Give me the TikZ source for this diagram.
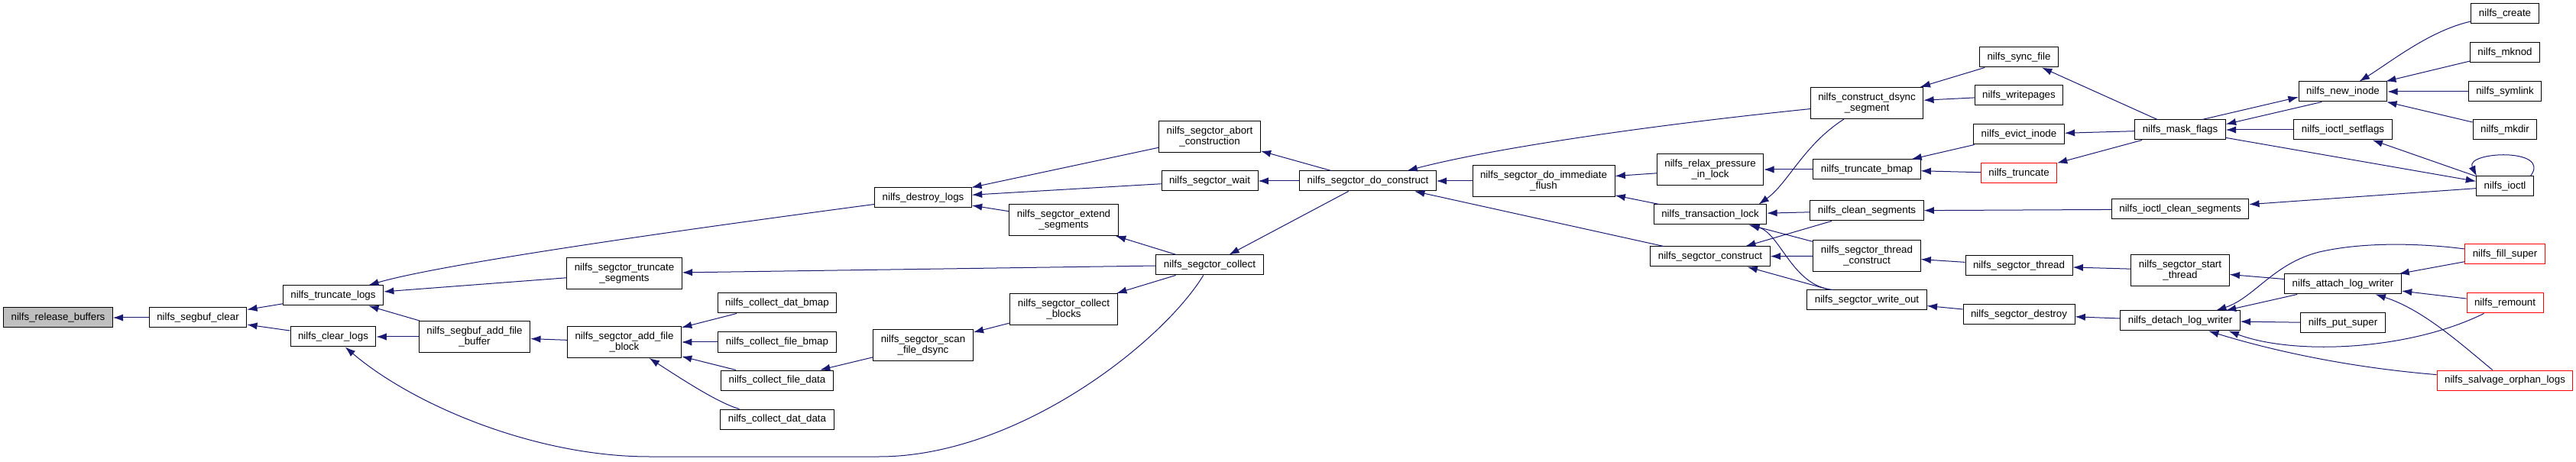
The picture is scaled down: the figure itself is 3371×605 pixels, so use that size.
\documentclass[tikz,border=0pt]{standalone}
\usepackage{fontspec}
\setmainfont{Liberation Sans}
\usepackage{tikz}
\usetikzlibrary{
  % filled arrow heads
  arrows.meta,%
  calc
}
\definecolor{edgeblue}{HTML}{191970}
\definecolor{rootgray}{HTML}{BFBFBF}
\tikzset{>={Latex[length=10pt,width=7pt]}}
\tikzset{font=\fontsize{10}{10.5}\selectfont}
\tikzset{func/.style={draw=black, line width=0.75pt, fill=white,
    inner xsep=7.5pt, inner ysep=2pt, minimum height=19.5pt, align=center},
  wrap/.style={func, minimum height=30.75pt},
  redfunc/.style={func, draw=red},
  call/.style={<-, draw=edgeblue, line width=0.75pt}}

\begin{document}
\begin{tikzpicture}[x=0.75pt, y=-0.75pt]
      \useasboundingbox (0,0) rectangle (3371,605);%
      % nodes, column by column
      \node[func, fill=rootgray] (relbuf) at (76,416) {nilfs\_release\_buffers};%
      \node[func] (sbclear) at (259,416) {nilfs\_segbuf\_clear};%
      \node[func] (trlogs) at (436,387) {nilfs\_truncate\_logs};%
      \node[func] (clrlogs) at (436,441) {nilfs\_clear\_logs};%
      \node[wrap] (addbuf) at (621,441) {nilfs\_segbuf\_add\_file\\\_buffer};%
      \node[wrap] (trseg) at (817,358) {nilfs\_segctor\_truncate\\\_segments};%
      \node[wrap] (addblk) at (817,448) {nilfs\_segctor\_add\_file\\\_block};%
      \node[func] (datbmap) at (1017,397) {nilfs\_collect\_dat\_bmap};%
      \node[func] (filebmap) at (1017,448) {nilfs\_collect\_file\_bmap};%
      \node[func] (filedata) at (1017,498) {nilfs\_collect\_file\_data};%
      \node[func] (datdata) at (1017,549) {nilfs\_collect\_dat\_data};%
      \node[func] (dlogs) at (1208,259) {nilfs\_destroy\_logs};%
      \node[wrap] (scandsync) at (1208,452) {nilfs\_segctor\_scan\\\_file\_dsync};%
      \node[wrap] (extseg) at (1392,288) {nilfs\_segctor\_extend\\\_segments};%
      \node[wrap] (colblk) at (1392,405) {nilfs\_segctor\_collect\\\_blocks};%
      \node[wrap] (abort) at (1583,179) {nilfs\_segctor\_abort\\\_construction};%
      \node[func] (wait) at (1583,237) {nilfs\_segctor\_wait};%
      \node[func] (collect) at (1583,347) {nilfs\_segctor\_collect};%
      \node[func] (doconst) at (1790,237) {nilfs\_segctor\_do\_construct};%
      \node[wrap] (immflush) at (2020,237) {nilfs\_segctor\_do\_immediate\\\_flush};%
      \node[wrap] (relax) at (2238,222) {nilfs\_relax\_pressure\\\_in\_lock};%
      \node[func] (trlock) at (2238,281) {nilfs\_transaction\_lock};%
      \node[func] (sconst) at (2238,336) {nilfs\_segctor\_construct};%
      \node[wrap] (dsync) at (2443,135) {nilfs\_construct\_dsync\\\_segment};%
      \node[func] (trbmap) at (2443,222) {nilfs\_truncate\_bmap};%
      \node[func] (cleanseg) at (2443,276) {nilfs\_clean\_segments};%
      \node[wrap] (thrconst) at (2443,335) {nilfs\_segctor\_thread\\\_construct};%
      \node[func] (wrout) at (2443,393) {nilfs\_segctor\_write\_out};%
      \node[func] (syncfile) at (2642,75) {nilfs\_sync\_file};%
      \node[func] (wpages) at (2642,125) {nilfs\_writepages};%
      \node[func] (evict) at (2642,176) {nilfs\_evict\_inode};%
      \node[redfunc] (trunc) at (2642,227) {nilfs\_truncate};%
      \node[func] (sthread) at (2642,348) {nilfs\_segctor\_thread};%
      \node[func] (sdestroy) at (2642,412) {nilfs\_segctor\_destroy};%
      \node[func] (mask) at (2853,170) {nilfs\_mask\_flags};%
      \node[func] (ioclean) at (2853,274) {nilfs\_ioctl\_clean\_segments};%
      \node[wrap] (startthr) at (2853,354) {nilfs\_segctor\_start\\\_thread};%
      \node[func] (detach) at (2853,420) {nilfs\_detach\_log\_writer};%
      \node[func] (newinode) at (3066,120) {nilfs\_new\_inode};%
      \node[func] (setflags) at (3066,170) {nilfs\_ioctl\_setflags};%
      \node[func] (attach) at (3066,372) {nilfs\_attach\_log\_writer};%
      \node[func] (putsuper) at (3066,423) {nilfs\_put\_super};%
      \node[func] (create) at (3278,18) {nilfs\_create};%
      \node[func] (mknod) at (3278,69) {nilfs\_mknod};%
      \node[func] (symlink) at (3278,120) {nilfs\_symlink};%
      \node[func] (mkdir) at (3278,170) {nilfs\_mkdir};%
      \node[func] (ioctl) at (3278,244) {nilfs\_ioctl};%
      \node[redfunc] (fillsuper) at (3278,333) {nilfs\_fill\_super};%
      \node[redfunc] (remount) at (3278,397) {nilfs\_remount};%
      \node[redfunc] (salvage) at (3278,498) {nilfs\_salvage\_orphan\_logs};%
      % calls, head at the callee
      \draw[call] (relbuf) -- (sbclear);%
      \draw[call] (sbclear) -- (trlogs);%
      \draw[call] (sbclear) -- (clrlogs);%
      \draw[call] (trlogs) .. controls (580,345) and (900,300) .. (dlogs);%
      \draw[call] (trlogs) -- (trseg);%
      \draw[call] (trlogs) -- (addbuf);%
      \draw[call] (clrlogs) -- (addbuf);%
      \draw[call] (clrlogs) .. controls (540,530) and (700,598) .. (850,598) -- (1150,598) .. controls (1330,598) and (1520,450) .. (collect);%
      \draw[call] (addbuf) -- (addblk);%
      \draw[call] (trseg) -- (collect);%
      \draw[call] (addblk) -- (datbmap);%
      \draw[call] (addblk) -- (filebmap);%
      \draw[call] (addblk) -- (filedata);%
      \draw[call] (addblk) .. controls (890,495) and (940,528) .. (datdata);%
      \draw[call] (filedata) -- (scandsync);%
      \draw[call] (dlogs) -- (abort);%
      \draw[call] (dlogs) -- (wait);%
      \draw[call] (dlogs) -- (extseg);%
      \draw[call] (scandsync) -- (colblk);%
      \draw[call] (extseg) -- (collect);%
      \draw[call] (colblk) -- (collect);%
      \draw[call] (abort) -- (doconst);%
      \draw[call] (wait) -- (doconst);%
      \draw[call] (collect) -- (doconst);%
      \draw[call] (doconst) -- (immflush);%
      \draw[call] (doconst) .. controls (1950,195) and (2150,165) .. (dsync);%
      \draw[call] (doconst) -- (sconst);%
      \draw[call] (immflush) -- (relax);%
      \draw[call] (immflush) -- (trlock);%
      \draw[call] (relax) -- (trbmap);%
      \draw[call] (trlock.12) .. controls (2340,240) and (2360,190) .. (dsync.215);%
      \draw[call] (trlock) -- (cleanseg);%
      \draw[call] (trlock) -- (thrconst);%
      \draw[call] (trlock.-15) .. controls (2330,305) and (2345,375) .. (wrout.163);%
      \draw[call] (sconst) -- (cleanseg);%
      \draw[call] (sconst) -- (thrconst);%
      \draw[call] (sconst) -- (wrout);%
      \draw[call] (dsync) -- (syncfile);%
      \draw[call] (dsync) -- (wpages);%
      \draw[call] (trbmap) -- (evict);%
      \draw[call] (trbmap) -- (trunc);%
      \draw[call] (cleanseg) -- (ioclean);%
      \draw[call] (thrconst) -- (sthread);%
      \draw[call] (wrout) -- (sdestroy);%
      \draw[call] (syncfile) -- (mask);%
      \draw[call] (evict) -- (mask);%
      \draw[call] (trunc) -- (mask);%
      \draw[call] (ioclean) -- (ioctl);%
      \draw[call] (sthread) -- (startthr);%
      \draw[call] (sdestroy) -- (detach);%
      \draw[call] (newinode.187) -- (mask.25);%
      \draw[call] (mask.7) -- (newinode.206);%
      \draw[call] (mask) -- (setflags);%
      \draw[call] (ioctl) -- (mask);%
      \draw[call] (setflags) -- (ioctl);%
      \draw[call] (ioctl.160) .. controls (3225,198) and (3340,193) .. (ioctl.22);%
      \draw[call] (newinode) .. controls (3130,80) and (3180,40) .. (create);%
      \draw[call] (newinode) -- (mknod);%
      \draw[call] (newinode) -- (symlink);%
      \draw[call] (newinode) -- (mkdir);%
      \draw[call] (startthr) -- (attach);%
      \draw[call] (detach) -- (attach);%
      \draw[call] (detach.16) .. controls (2950,390) and (2975,345) .. (3035,330) .. controls (3100,315) and (3180,320) .. (fillsuper);%
      \draw[call] (detach) -- (putsuper);%
      \draw[call] (detach.-12) .. controls (3000,465) and (3150,460) .. (remount);%
      \draw[call] (detach.-20) .. controls (2960,455) and (3060,480) .. (salvage);%
      \draw[call] (attach) -- (fillsuper);%
      \draw[call] (attach) -- (remount);%
      \draw[call] (attach) .. controls (3170,405) and (3220,450) .. (salvage);%
    \end{tikzpicture}
\end{document}
